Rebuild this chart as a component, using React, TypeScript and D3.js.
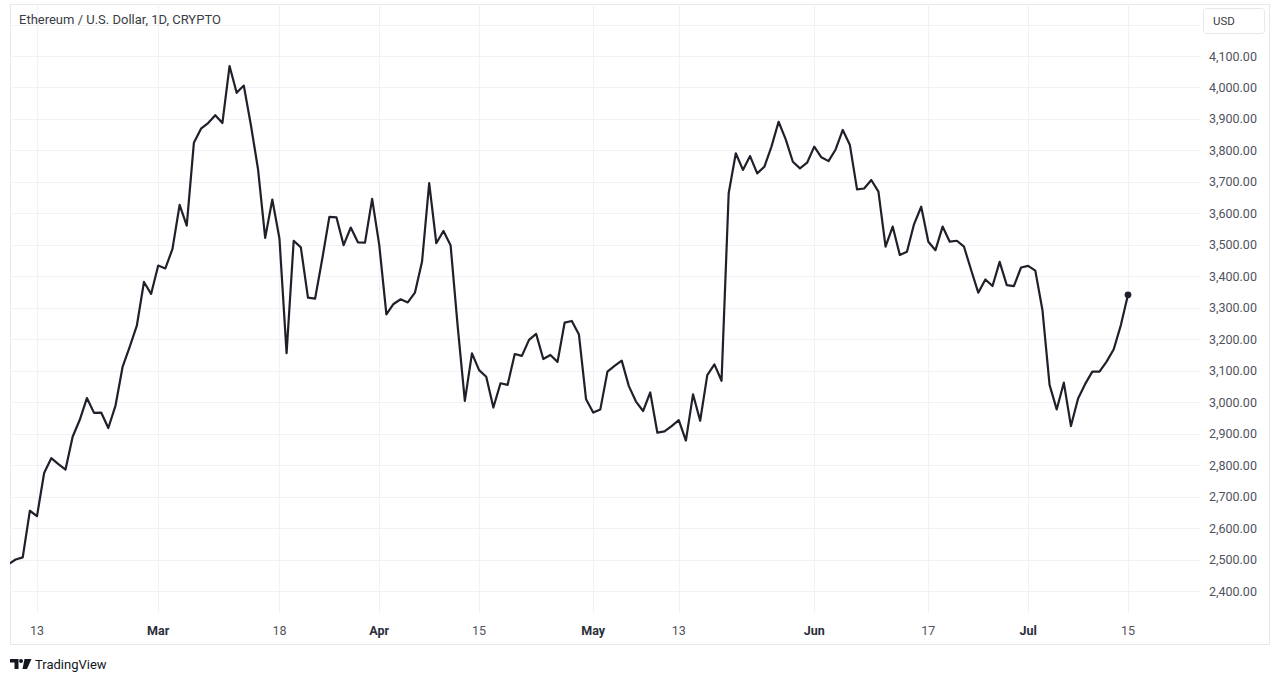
import React from "react";
import * as d3 from "d3";

// ---- Data (daily closes) ----
const startDate = "2024-02-09";
const febValues = [2485, 2500, 2507, 2655, 2638, 2775, 2822, 2803, 2786, 2890, 2944, 3013, 2966, 2967, 2918, 2988, 3112, 3176, 3243, 3382, 3344];
const marValues = [3434, 3425, 3487, 3627, 3561, 3824, 3869, 3887, 3912, 3887, 4068, 3983, 4006, 3880, 3740, 3522, 3644, 3520, 3156, 3513, 3492, 3332, 3329, 3455, 3589, 3587, 3499, 3555, 3508, 3507, 3646];
const aprValues = [3499, 3279, 3312, 3327, 3317, 3348, 3447, 3696, 3505, 3544, 3499, 3240, 3004, 3155, 3102, 3081, 2983, 3060, 3055, 3153, 3147, 3198, 3217, 3137, 3150, 3128, 3253, 3258, 3215, 3009];
const mayValues = [2967, 2977, 3097, 3115, 3132, 3051, 3002, 2972, 3031, 2903, 2907, 2924, 2943, 2878, 3025, 2941, 3086, 3120, 3068, 3664, 3791, 3738, 3782, 3727, 3748, 3812, 3891, 3835, 3764, 3743, 3761];
const junValues = [3812, 3778, 3766, 3803, 3865, 3817, 3676, 3679, 3706, 3669, 3494, 3558, 3468, 3478, 3566, 3621, 3510, 3483, 3558, 3510, 3513, 3494, 3420, 3348, 3390, 3369, 3446, 3372, 3369, 3428];
const julValues = [3433, 3418, 3293, 3055, 2977, 3062, 2924, 3012, 3058, 3097, 3097, 3129, 3168, 3245, 3341];

const timeTickDates = ["2024-02-13", "2024-03-01", "2024-03-18", "2024-04-01", "2024-04-15", "2024-05-01", "2024-05-13", "2024-06-01", "2024-06-17", "2024-07-01", "2024-07-15"];
const timeTickLabels = ["13", "Mar", "18", "Apr", "15", "May", "13", "Jun", "17", "Jul", "15"];
const priceTicks = [2400, 2500, 2600, 2700, 2800, 2900, 3000, 3100, 3200, 3300, 3400, 3500, 3600, 3700, 3800, 3900, 4000, 4100];
const gridPrices = [2300, 2400, 2500, 2600, 2700, 2800, 2900, 3000, 3100, 3200, 3300, 3400, 3500, 3600, 3700, 3800, 3900, 4000, 4100, 4200];

const title = "Ethereum / U.S. Dollar, 1D, CRYPTO";
const currency = "USD";

const parse = d3.utcParse("%Y-%m-%d");
const allValues = [...febValues, ...marValues, ...aprValues, ...mayValues, ...junValues, ...julValues];
const start = parse(startDate) as Date;
const data = allValues.map((v, i) => ({ date: d3.utcDay.offset(start, i), value: v }));

const W = 1280;
const H = 683;
const plotLeft = 10;
const plotRight = 1200;
const plotTop = 4;
const plotBottom = 613;
const FONT = "Roboto, 'Open Sans', 'DejaVu Sans', sans-serif";

export default function App() {
  const x = d3
    .scaleUtc()
    .domain([parse("2024-02-13") as Date, parse("2024-07-15") as Date])
    .range([37, 1128]);
  const y = d3.scaleLinear().domain([2400, 4100]).range([591, 56]);

  const line = d3
    .line<{ date: Date; value: number }>()
    .x((d) => x(d.date))
    .y((d) => y(d.value));

  const last = data[data.length - 1];
  const fmt = d3.format(",.2f");

  return (
    <svg
      width={W}
      height={H}
      style={{ position: "absolute", left: 0, top: 0, background: "#fff" }}
      fontFamily={FONT}
    >
      <defs>
        <clipPath id="plotClip">
          <rect x={plotLeft} y={plotTop} width={plotRight - plotLeft} height={plotBottom - plotTop} />
        </clipPath>
      </defs>
      <rect x={0} y={0} width={W} height={H} fill="#fff" />
      {/* panel */}
      <rect x={10.5} y={4.5} width={1259} height={640} fill="#fff" stroke="#e6e8ee" strokeWidth={1} />

      {/* grid */}
      <g clipPath="url(#plotClip)">
        {gridPrices.map((p) => (
          <line key={"h" + p} x1={plotLeft} x2={plotRight} y1={Math.round(y(p)) + 0.5} y2={Math.round(y(p)) + 0.5} stroke="#f1f2f5" strokeWidth={1} />
        ))}
        {timeTickDates.map((d) => {
          const xx = Math.round(x(parse(d) as Date)) + 0.5;
          return <line key={"v" + d} x1={xx} x2={xx} y1={plotTop} y2={plotBottom} stroke="#f1f2f5" strokeWidth={1} />;
        })}
      </g>

      {/* title */}
      <text x={19} y={24} fontSize={13} fill="#3a3d45">
        {title}
      </text>

      {/* price line */}
      <g clipPath="url(#plotClip)">
        <path d={line(data) || ""} fill="none" stroke="#1f2029" strokeWidth={2.2} strokeLinejoin="round" strokeLinecap="round" />
        <circle cx={x(last.date)} cy={y(last.value)} r={3.4} fill="#1f2029" />
      </g>

      {/* price axis */}
      <rect x={1203.5} y={8.5} width={61} height={25} rx={3} fill="#fff" stroke="#e6e8ee" />
      <text x={1213} y={25} fontSize={11.5} fill="#3a3d45">
        {currency}
      </text>
      {priceTicks.map((p) => (
        <text key={"p" + p} x={1209} y={y(p) + 4.5} fontSize={12.5} fill="#50535e">
          {fmt(p)}
        </text>
      ))}

      {/* time axis */}
      {timeTickDates.map((d, i) => {
        const isMonth = isNaN(Number(timeTickLabels[i]));
        return (
          <text
            key={"t" + d}
            x={x(parse(d) as Date)}
            y={635}
            fontSize={12.5}
            textAnchor="middle"
            fontWeight={isMonth ? 700 : 400}
            fill={isMonth ? "#2a2e39" : "#50535e"}
          >
            {timeTickLabels[i]}
          </text>
        );
      })}

      {/* TradingView logo */}
      <g fill="#131722">
        <path d="M10,659 H18.5 V669 H14.5 V662.5 H10 Z" />
        <circle cx={21} cy={661} r={2} />
        <path d="M24.5,659 H31.5 L27,669 H22.5 Z" />
      </g>
      <text x={35} y={669} fontSize={13} fill="#131722">
        TradingView
      </text>
    </svg>
  );
}
